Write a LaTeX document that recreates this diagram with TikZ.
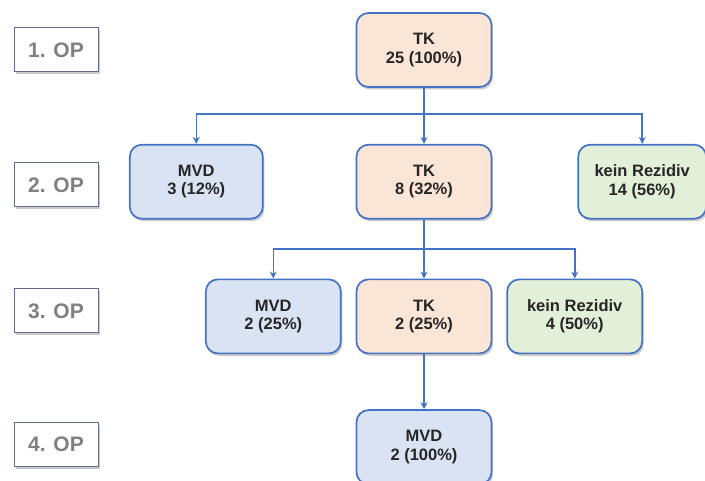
\documentclass[tikz,border=0pt]{standalone}
\usepackage{fontspec}
\setmainfont{Liberation Sans}
\usetikzlibrary{arrows.meta, positioning, shadows, calc}

\definecolor{tkfill}{RGB}{251,229,214}
\definecolor{mvdfill}{RGB}{218,227,243}
\definecolor{krfill}{RGB}{226,240,217}
\definecolor{boxline}{RGB}{68,114,196}
\definecolor{opgray}{RGB}{128,128,128}
\definecolor{opline}{RGB}{96,110,140}
\definecolor{boxtext}{RGB}{38,38,38}

\begin{document}
\begin{tikzpicture}[x=1pt, y=-1pt, node distance=56pt and 14pt]
  \tikzstyle{block} = [rectangle, rounded corners=12pt, draw=boxline, line width=1.7pt, align=center, minimum width=135pt, minimum height=74pt, text=boxtext, font=\fontsize{16.5}{18.5}\selectfont\bfseries, drop shadow={shadow xshift=1.5pt, shadow yshift=-2.5pt, opacity=0.35, fill=black!60}]
  \tikzstyle{tk} = [block, fill=tkfill]
  \tikzstyle{mvd} = [block, fill=mvdfill]
  \tikzstyle{kr} = [block, fill=krfill]
  \tikzstyle{op} = [rectangle, draw=opline, line width=1pt, fill=white, minimum width=84pt, minimum height=44pt, text=opgray, font=\fontsize{21}{24}\selectfont\bfseries, drop shadow={shadow xshift=1.5pt, shadow yshift=-2.5pt, opacity=0.35, fill=black!60}]
  \tikzstyle{arrow} = [line width=1.6pt, draw=boxline, -{Stealth[length=7pt, width=7pt]}]

  \useasboundingbox (0,0) rectangle (705,481);

  % left column
  \node[op] (op1) at (56,50) {1. OP};
  \node[op] (op2) at (56,185) {2. OP};
  \node[op] (op3) at (56,311) {3. OP};
  \node[op] (op4) at (56,444) {4. OP};

  % tree
  \node[tk] (tk1) at (424,50) {TK\\25 (100\%)};
  \node[tk, below=of tk1] (tk2) {TK\\8 (32\%)};
  \node[mvd, left=92pt of tk2, minimum width=133pt] (mvd2) {MVD\\3 (12\%)};
  \node[kr, right=85pt of tk2, minimum width=128pt] (kr2) {kein Rezidiv\\14 (56\%)};
  \node[tk, below=59pt of tk2] (tk3) {TK\\2 (25\%)};
  \node[mvd, left=of tk3] (mvd3) {MVD\\2 (25\%)};
  \node[kr, right=of tk3] (kr3) {kein Rezidiv\\4 (50\%)};
  \node[mvd, below=55pt of tk3] (mvd4) {MVD\\2 (100\%)};

  \coordinate (split1) at ($(tk1.south)!0.47!(tk2.north)$);
  \coordinate (split2) at ($(tk2.south)!0.5!(tk3.north)$);

  \draw[arrow] (tk1) -- (tk2);
  \draw[arrow] (split1) -| (mvd2);
  \draw[arrow] (split1) -| (kr2);
  \draw[arrow] (tk2) -- (tk3);
  \draw[arrow] (split2) -| (mvd3);
  \draw[arrow] (split2) -| (kr3);
  \draw[arrow] (tk3) -- (mvd4);
\end{tikzpicture}
\end{document}
